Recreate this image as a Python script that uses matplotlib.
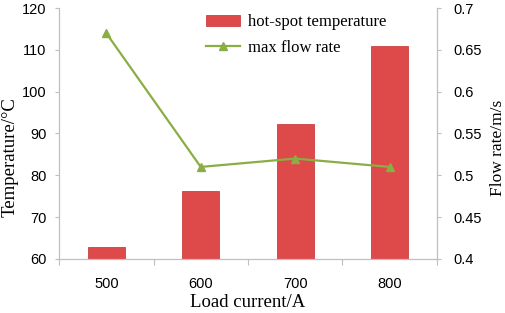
import matplotlib.pyplot as plt
import numpy as np

currents = ['500', '600', '700', '800']
hot_spot_temp = [62.8, 76.2, 92.2, 111.0]
max_flow_rate = [0.67, 0.51, 0.52, 0.51]

serif = ['Liberation Serif', 'DejaVu Serif']
sans = ['Liberation Sans', 'DejaVu Sans']
grey = '#BFBFBF'

fig = plt.figure(figsize=(5.05, 3.13), dpi=100)
ax = fig.add_axes([0.117, 0.173, 0.748, 0.801])
ax2 = ax.twinx()

x = np.arange(len(currents))
bars = ax.bar(x, hot_spot_temp, width=0.39, color='#DE4A4A', edgecolor='#C94343',
              linewidth=0.6, label='hot-spot temperature', zorder=2)
line, = ax2.plot(x, max_flow_rate, color='#8AAE44', lw=1.6, marker='^',
                 markersize=6, markerfacecolor='#8AAE44', label='max flow rate', zorder=3)

ax.set_xlim(-0.5, 3.5)
ax.set_ylim(60, 120)
ax2.set_ylim(0.4, 0.7)
ax.set_yticks(np.arange(60, 121, 10))
ax2.set_yticks(np.arange(0.4, 0.701, 0.05))
ax2.set_yticklabels(['0.4', '0.45', '0.5', '0.55', '0.6', '0.65', '0.7'])

ax.set_xticks(np.arange(-0.5, 3.6, 1))
ax.set_xticklabels([])
ax.set_xticks(x, minor=True)
ax.set_xticklabels(currents, minor=True)
ax.tick_params(axis='x', which='major', length=4, color=grey, direction='out')
ax.tick_params(axis='x', which='minor', length=0, pad=13)
ax.tick_params(axis='y', length=3, color=grey, pad=6)
ax2.tick_params(axis='y', length=3, color=grey, pad=9)

for a in (ax, ax2):
    a.spines['top'].set_visible(False)
    for s in ('left', 'right', 'bottom'):
        a.spines[s].set_color(grey)
    for lab in a.get_xticklabels(which='both') + a.get_yticklabels():
        lab.set_family(sans)
        lab.set_fontsize(10.5)

ax.set_xlabel('Load current/A', family=serif, fontsize=13.5, labelpad=2)
ax.set_ylabel('Temperature/\u00b0C', family=serif, fontsize=13.5)
ax2.set_ylabel('Flow rate/m/s', family=serif, fontsize=12.5)
ax.yaxis.set_label_coords(-0.108, 0.406)
ax2.yaxis.set_label_coords(1.142, 0.442)

ax.legend([bars, line], ['hot-spot temperature', 'max flow rate'],
          loc='upper left', bbox_to_anchor=(0.35, 1.035), frameon=False,
          prop={'family': serif, 'size': 12}, handlelength=2.0,
          handletextpad=0.5, labelspacing=0.55)

fig.savefig('out.png', dpi=100)
